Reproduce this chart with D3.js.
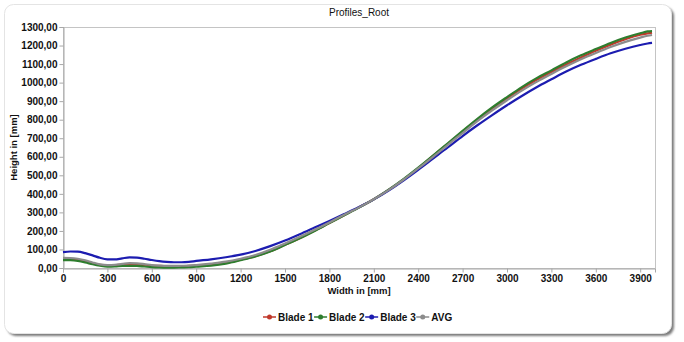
<!DOCTYPE html>
<html><head><meta charset="utf-8">
<script src="https://cdn.jsdelivr.net/npm/d3@7"></script>
<style>html,body{margin:0;padding:0;background:#fff;}svg{display:block;}</style>
</head><body>
<svg id="chart" width="684" height="342"></svg>
<script>
const title = "Profiles_Root";
const xTitle = "Width in [mm]";
const yTitle = "Height in [mm]";
const xTicks = [0,300,600,900,1200,1500,1800,2100,2400,2700,3000,3300,3600,3900];
const yTicks = [0,100,200,300,400,500,600,700,800,900,1000,1100,1200,1300];
const widths = [0,50,100,150,200,250,300,350,400,450,500,550,600,650,700,750,800,850,900,1000,1100,1200,1300,1400,1500,1600,1700,1800,1900,2000,2100,2200,2300,2400,2500,2600,2700,2800,2900,3000,3100,3200,3300,3400,3500,3600,3700,3800,3900,3950,3980];
const blade1 = [48,47,43,35,25,17,13,15,18,20,19,16,13,11,10,10,10,11,12,17,27,45,64,90,126,161,201,243,285,327,371,421,477,538,605,670,736,800,860,915,968,1015,1057,1098,1136,1172,1205,1234,1258,1266,1270];
const blade2 = [43,42,38,30,20,12,7,8,11,12,11,8,5,3,2,2,3,4,7,13,24,42,62,89,124,160,200,242,284,326,371,422,479,541,606,673,740,805,866,922,976,1024,1066,1109,1147,1181,1214,1243,1266,1276,1278];
const blade3 = [86,89,88,80,68,55,47,46,52,57,56,50,43,37,33,31,31,33,38,47,58,72,92,118,148,182,218,254,291,329,370,418,472,530,590,650,712,770,825,878,928,975,1018,1060,1096,1128,1158,1183,1203,1211,1214];
const avg    = [55,54,50,42,30,20,16,17,22,26,25,21,16,13,11,11,12,13,16,24,34,50,70,98,132,168,206,246,287,327,371,420,476,537,600,664,728,792,850,905,957,1004,1047,1088,1126,1160,1192,1220,1243,1253,1257];
const seriesNames = ["Blade 1","Blade 2","Blade 3","AVG"];
const seriesColors = ["#c0392b","#2e7d2e","#1c1cb0","#8c8c8c"];
const seriesValues = [blade1, blade2, blade3, avg];

const svg = d3.select("#chart");
const defs = svg.append("defs");
const f = defs.append("filter").attr("id","sh").attr("x","-5%").attr("y","-5%").attr("width","110%").attr("height","115%");
f.append("feGaussianBlur").attr("stdDeviation",1.2);

// card
svg.append("rect").attr("x",7).attr("y",7).attr("width",667).attr("height",329).attr("rx",9)
  .attr("fill","#7a7a7a").attr("filter","url(#sh)");
svg.append("rect").attr("x",4.5).attr("y",4.5).attr("width",667).attr("height",329).attr("rx",9)
  .attr("fill","#fff").attr("stroke","#e4e4e4");

const m = {left:63, top:27, right:655, bottom:268};
const x = d3.scaleLinear().domain([0,4000]).range([m.left, m.right]);
const y = d3.scaleLinear().domain([0,1300]).range([m.bottom, m.top]);

// plot frame
svg.append("rect").attr("x",m.left+0.5).attr("y",m.top+0.5)
  .attr("width",m.right-m.left).attr("height",m.bottom-m.top)
  .attr("fill","#fff").attr("stroke","#c4c4c4");

const fmtY = d => d3.format(".2f")(d).replace(".", ",");
const yAxis = svg.append("g").attr("transform",`translate(${m.left+0.5},0)`)
  .call(d3.axisLeft(y).tickValues(yTicks).tickFormat(fmtY).tickSize(4).tickPadding(2));
const xAxis = svg.append("g").attr("transform",`translate(0,${m.bottom+0.5})`)
  .call(d3.axisBottom(x).tickValues(xTicks).tickFormat(d3.format("d")).tickSize(4).tickPadding(2));
[yAxis, xAxis].forEach(a => {
  a.selectAll("path,line").attr("stroke","#a8a8a8");
  a.selectAll("text").attr("font-family","Liberation Sans, Arial, sans-serif")
    .attr("font-size",10).attr("font-weight","bold").attr("fill","#111");
});

// lines
const line = d3.line().x((d,i)=>x(widths[i])).y(d=>y(d)).curve(d3.curveMonotoneX);
seriesValues.forEach((vals,k)=>{
  svg.append("path").datum(vals).attr("d",line)
    .attr("fill","none").attr("stroke",seriesColors[k]).attr("stroke-width",2.2)
    .attr("stroke-linejoin","round");
});

// titles
svg.append("text").attr("x",(m.left+m.right)/2).attr("y",16).attr("text-anchor","middle")
  .attr("font-family","Liberation Sans, Arial, sans-serif").attr("font-size",10).attr("fill","#111").text(title);
svg.append("text").attr("x",(m.left+m.right)/2).attr("y",294).attr("text-anchor","middle")
  .attr("font-family","Liberation Sans, Arial, sans-serif").attr("font-size",9.5).attr("font-weight","bold").attr("fill","#111").text(xTitle);
svg.append("text").attr("transform",`translate(17,${(m.top+m.bottom)/2}) rotate(-90)`).attr("text-anchor","middle")
  .attr("font-family","Liberation Sans, Arial, sans-serif").attr("font-size",9.5).attr("font-weight","bold").attr("fill","#111").text(yTitle);

// legend
const lg = svg.append("g").attr("transform","translate(263,317)");
let lx = 0;
seriesNames.forEach((n,k)=>{
  const g = lg.append("g").attr("transform",`translate(${lx},0)`);
  g.append("line").attr("x1",0).attr("x2",13).attr("y1",0).attr("y2",0).attr("stroke",seriesColors[k]).attr("stroke-width",1.5);
  g.append("circle").attr("cx",6.5).attr("cy",0).attr("r",2.5).attr("fill",seriesColors[k]);
  const t = g.append("text").attr("x",15).attr("y",3.5).attr("font-family","Liberation Sans, Arial, sans-serif")
    .attr("font-size",10).attr("font-weight","bold").attr("fill","#111").text(n);
  lx += 15 + t.node().getComputedTextLength() + 0.5;
});
</script>
</body></html>
